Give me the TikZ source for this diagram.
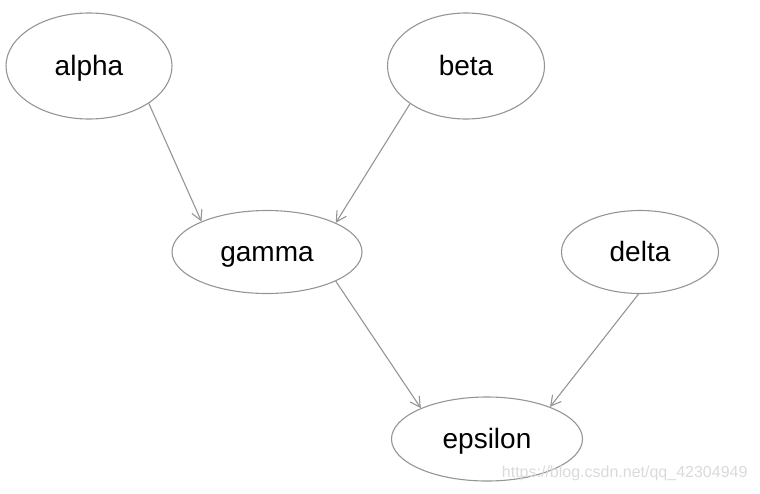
\documentclass[tikz,border=0pt]{standalone}
\usepackage{fontspec}
\setmainfont{Liberation Sans}
\usetikzlibrary{shapes.geometric,arrows.meta}
\definecolor{edgegray}{HTML}{959595}
\definecolor{wmgray}{HTML}{DADADA}
\tikzset{
  nd/.style={ellipse, draw=edgegray, line width=1.1pt, inner sep=0pt, text height=20pt, text depth=1pt, font=\fontsize{28}{30}\selectfont, text=black},
  ed/.style={draw=edgegray, line width=1.1pt, -{Straight Barb[length=10pt,width=11pt]}}
}
\begin{document}
\begin{tikzpicture}[x=1pt,y=-1pt]
\useasboundingbox (0,0) rectangle (760,493);
\node[nd, minimum width=166pt, minimum height=106pt] (alpha) at (89,66) {alpha};
\node[nd, minimum width=157pt, minimum height=106pt] (beta) at (466,66) {beta};
\node[nd, minimum width=190pt, minimum height=83pt] (gamma) at (267,252) {gamma};
\node[nd, minimum width=157pt, minimum height=83pt] (delta) at (640,252) {delta};
\node[nd, minimum width=191pt, minimum height=84pt] (epsilon) at (487,439) {epsilon};
\draw[ed] (alpha.-32.3) -- (gamma.155.6);
\draw[ed] (beta.214.2) -- (gamma.23.5);
\draw[ed] (gamma.-23.8) -- (epsilon.155.2);
\draw[ed] (delta.-92.7) -- (epsilon.27.3);
\node[text=wmgray, font=\fontsize{16}{18}\selectfont, anchor=east] (wm) at (751,473) {https://blog.csdn.net/qq\_42304949};
\end{tikzpicture}
\end{document}
